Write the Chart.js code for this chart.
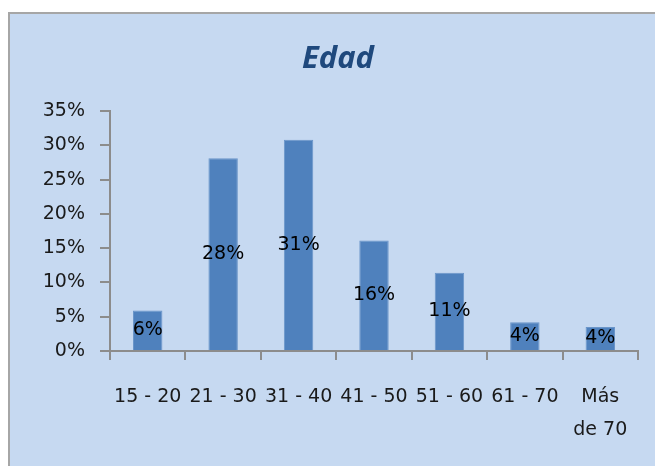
<!DOCTYPE html>
<html>
<head>
<meta charset="utf-8">
<script src="https://cdn.jsdelivr.net/npm/chart.js@4"></script>
<style>
  body { margin: 0; background: #fff; }
  #box {
    position: absolute; left: 8px; top: 12px; width: 660px; height: 470px;
    background: #c6d9f1; border-left: 2px solid #a6a6a6; border-top: 2px solid #a6a6a6;
  }
  #wrap { position: absolute; left: 0; top: 0; width: 655px; height: 466px; }
</style>
</head>
<body>
<div id="box"></div>
<div id="wrap"><canvas id="barChart" width="655" height="466"></canvas></div>
<script>
// age groups and share of respondents (%)
const labels = ['15 - 20', '21 - 30', '31 - 40', '41 - 50', '51 - 60', '61 - 70', ['Más', 'de 70']];
const values = [5.9, 28.1, 30.8, 16.1, 11.4, 4.2, 3.5];
const yTicks = [0, 5, 10, 15, 20, 25, 30, 35];
const chartTitle = 'Edad';

const axisColor = '#8c8c8c';
const textColor = '#1a1a1a';
const tickFont = { family: 'DejaVu Sans', size: 19 };

// writes the rounded percentage in the middle of each bar
const barLabels = {
  id: 'barLabels',
  afterDatasetsDraw(chart) {
    const ctx = chart.ctx;
    const meta = chart.getDatasetMeta(0);
    ctx.save();
    ctx.font = '19px "DejaVu Sans"';
    ctx.fillStyle = '#000';
    ctx.textAlign = 'center';
    ctx.textBaseline = 'middle';
    meta.data.forEach((bar, i) => {
      const y = (bar.y + bar.base) / 2;
      ctx.fillText(Math.round(values[i]) + '%', bar.x, y);
    });
    ctx.restore();
  }
};

// title sits a bit left of the plot centre, like in the original
const titlePlugin = {
  id: 'titlePlugin',
  afterDraw(chart) {
    const ctx = chart.ctx;
    ctx.save();
    ctx.font = 'italic bold 31px "Open Sans"';
    ctx.fillStyle = '#1f497d';
    ctx.textAlign = 'center';
    ctx.textBaseline = 'alphabetic';
    ctx.fillText(chartTitle, 338, 68);
    ctx.restore();
  }
};

const data = {
  labels: labels,
  datasets: [{
    data: values,
    backgroundColor: '#4f81bd',
    borderColor: '#6a95c9',
    borderWidth: 1,
    barPercentage: 0.39,
    categoryPercentage: 1
  }]
};

const config = {
  type: 'bar',
  data: data,
  plugins: [barLabels, titlePlugin],
  options: {
    responsive: false,
    animation: false,
    layout: { padding: { left: 0, right: 17, top: 111, bottom: 0 } },
    plugins: {
      legend: { display: false },
      tooltip: { enabled: false },
      title: { display: false }
    },
    scales: {
      x: {
        border: { color: axisColor, width: 2 },
        grid: { drawOnChartArea: false, color: axisColor, tickLength: 9, lineWidth: 2 },
        ticks: {
          color: textColor, font: Object.assign({ lineHeight: 1.75 }, tickFont),
          autoSkip: false, maxRotation: 0, padding: 20
        },
        afterFit: s => { s.height = 115; }
      },
      y: {
        min: 0,
        max: 35,
        border: { color: axisColor, width: 2 },
        grid: { drawOnChartArea: false, color: axisColor, tickLength: 10, lineWidth: 2 },
        afterBuildTicks: s => { s.ticks = yTicks.map(v => ({ value: v })); },
        ticks: {
          color: textColor, font: tickFont, padding: 15,
          callback: v => v + '%'
        },
        afterFit: s => { s.width = 110; }
      }
    }
  }
};

//eslint-disable-next-line
const barChart = new Chart(document.getElementById('barChart'), config);
</script>
</body>
</html>
